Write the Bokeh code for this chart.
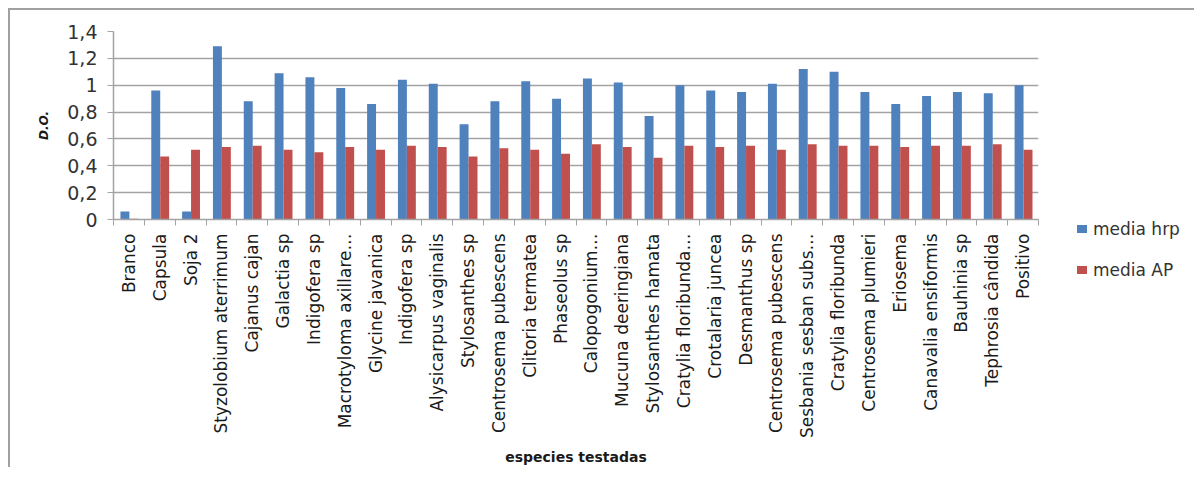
import numpy as np
from bokeh.plotting import figure
from bokeh.layouts import row
from bokeh.models import (ColumnDataSource, Range1d, FixedTicker, CustomJSTickFormatter, Div)
from bokeh.transform import dodge
from bokeh.embed import file_html
from bokeh.resources import INLINE

categories = [
    "Branco", "Capsula", "Soja 2", "Styzolobium aterrimum", "Cajanus cajan",
    "Galactia sp", "Indigofera sp", "Macrotyloma axillare…", "Glycine javanica",
    "Indigofera sp", "Alysicarpus vaginalis", "Stylosanthes sp",
    "Centrosema pubescens", "Clitoria termatea", "Phaseolus sp", "Calopogonium…",
    "Mucuna deeringiana", "Stylosanthes hamata", "Cratylia floribunda…",
    "Crotalaria juncea", "Desmanthus sp", "Centrosema pubescens",
    "Sesbania sesban subs…", "Cratylia floribunda", "Centrosema plumieri",
    "Eriosema", "Canavalia ensiformis", "Bauhinia sp", "Tephrosia cândida", "Positivo",
]
media_hrp = [0.06, 0.96, 0.06, 1.29, 0.88, 1.09, 1.06, 0.98, 0.86, 1.04,
             1.01, 0.71, 0.88, 1.03, 0.90, 1.05, 1.02, 0.77, 1.00, 0.96,
             0.95, 1.01, 1.12, 1.10, 0.95, 0.86, 0.92, 0.95, 0.94, 1.00]
media_ap = [0.005, 0.47, 0.52, 0.54, 0.55, 0.52, 0.50, 0.54, 0.52, 0.55,
            0.54, 0.47, 0.53, 0.52, 0.49, 0.56, 0.54, 0.46, 0.55, 0.54,
            0.55, 0.52, 0.56, 0.55, 0.55, 0.54, 0.55, 0.55, 0.56, 0.52]
series_names = ["media hrp", "media AP"]
series_colors = ["#4F81BD", "#C0504D"]
y_ticks = [0, 0.2, 0.4, 0.6, 0.8, 1.0, 1.2, 1.4]

FONT = "DejaVu Sans"
GRID = "#a3a3a3"
TXT = "#1a1a1a"

n = len(categories)
idx = list(range(n))
source = ColumnDataSource(dict(x=idx, hrp=media_hrp, ap=media_ap))

p = figure(frame_width=925, frame_height=188, output_backend="svg", toolbar_location=None,
           x_range=Range1d(-0.5, n - 0.5), y_range=Range1d(0, 1.4),
           min_border_left=103, min_border_right=20, min_border_top=21,
           min_border_bottom=100)
p.outline_line_color = None
p.background_fill_color = "white"
p.border_fill_color = "white"

p.vbar(x=dodge("x", -0.13, range=p.x_range), top="hrp", width=0.29,
       source=source, fill_color=series_colors[0], line_color=None)
p.vbar(x=dodge("x", 0.16, range=p.x_range), top="ap", width=0.29,
       source=source, fill_color=series_colors[1], line_color=None)

# x axis
xa = p.xaxis[0]
xa.ticker = FixedTicker(ticks=idx, minor_ticks=[i - 0.5 for i in range(n + 1)])
xa.major_label_overrides = {i: c for i, c in enumerate(categories)}
xa.major_label_orientation = np.pi / 2
xa.major_tick_out = 0
xa.major_tick_in = 0
xa.minor_tick_out = 6
xa.minor_tick_in = 0
xa.minor_tick_line_color = GRID
xa.axis_line_color = GRID
xa.axis_line_width = 1.5
xa.major_label_standoff = 8
xa.major_label_text_font = FONT
xa.major_label_text_font_size = "17px"
xa.major_label_text_color = TXT
xa.axis_label = "especies testadas"
xa.axis_label_text_font = FONT
xa.axis_label_text_font_size = "14px"
xa.axis_label_text_font_style = "bold"
xa.axis_label_text_color = TXT
xa.axis_label_standoff = 8

# y axis
ya = p.yaxis[0]
ya.ticker = FixedTicker(ticks=y_ticks)
ya.formatter = CustomJSTickFormatter(code="""
var s = (Math.round(tick*10)/10).toString();
return s.replace('.', ',');
""")
ya.major_tick_out = 6
ya.major_tick_in = 0
ya.major_tick_line_color = GRID
ya.minor_tick_line_color = None
ya.axis_line_color = GRID
ya.axis_line_width = 1.5
ya.major_label_standoff = 10
ya.major_label_text_font = FONT
ya.major_label_text_font_size = "19px"
ya.major_label_text_color = "#333333"
ya.axis_label = "D.O."
ya.axis_label_text_font = FONT
ya.axis_label_text_font_size = "12px"
ya.axis_label_text_font_style = "bold italic"
ya.axis_label_text_color = TXT
ya.axis_label_standoff = 13

p.xgrid.grid_line_color = None
p.ygrid.grid_line_color = GRID
p.ygrid.grid_line_width = 1.5

# legend (HTML) to the right of the chart
item_tops = [202, 243]
parts = []
for name, color, top in zip(series_names, series_colors, item_tops):
    parts.append(
        f'<span style="position:absolute;left:14px;top:{top + 8}px;width:10px;height:8px;'
        f'background:{color};"></span>'
        f'<span style="position:absolute;left:30px;top:{top}px;line-height:24px;'
        f'white-space:nowrap;">{name}</span>')
legend_html = ('<div style="position:relative;width:136px;height:300px;'
               f'font-family:\'{FONT}\';font-size:17px;color:#333333;">' + "".join(parts) + "</div>")
legend_div = Div(text=legend_html, width=136, height=300)

layout = row(p, legend_div, spacing=0)
layout.styles = {"margin-left": "8px", "margin-top": "8px",
                 "border-top": "2px solid #a0a0a0", "border-left": "2px solid #a0a0a0"}

open("out.html", "w").write(file_html(layout, INLINE))
